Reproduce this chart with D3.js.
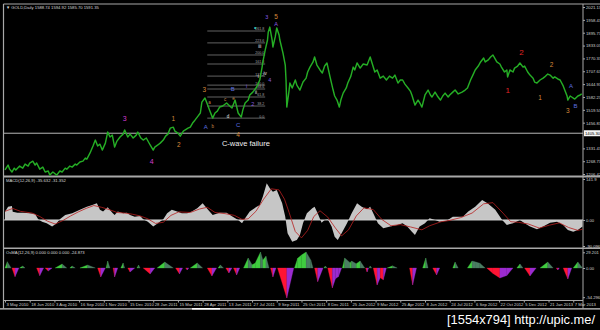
<!DOCTYPE html>
<html>
<head>
<meta charset="utf-8">
<script src="https://cdnjs.cloudflare.com/ajax/libs/d3/7.8.5/d3.min.js"></script>
<style>
body { margin: 0; background: #000; }
text { font-family: "Liberation Sans", Arial, sans-serif; }
</style>
</head>
<body>
<div id="chart"></div>
<script>

// GOLD daily close (bar number, price)
var priceBars = [0,4,6,9,12,14,19,23,26,30,32,36,39,41,45,49,52,56,58,62,67,71,74,78,80,84,87,91,93,97,101,104,106,110,114,117,120,123,126,130,133,136,139,142,145,149,153,155,159,162,166,170,172,176,179,183,188,192,194,198,201,205,208,211,214,218,220,224,227,231,233,237,240,243,246,250,253,255,259,262,265,269,272,275,278,282,287,291,294,298,302,306,308,311,315,317,321,326,330,333,334,337,340,341,343,346,347,350,352,355,356,360,363,364,365,368,369,372,376,378,382,386,390,392,395,399,401,404,408,411,414,417,421,425,427,430,433,435,438,442,444,448,451,453,456,460,464,469,473,475,479,482,486,490,494,498,502,505,509,512,515,518,522,525,527,531,535,538,540,544,548,551,553,557,560,564,567,570,574,576,580,583,587,592,596,599,603,606,609,613,616,620,622,626,629,632,635,637,641,643,647,650,651,654,658,660,664,667,671,673,677,680,684,686,689,693,697,699,703,706,710,712,716,719,723,725,728,729,732,734,738,742,745,747];
var priceValues = [1226,1250,1230,1216,1235,1226,1245,1235,1255,1245,1260,1269,1250,1260,1230,1240,1216,1221,1201,1216,1201,1221,1216,1235,1230,1245,1240,1255,1250,1265,1269,1284,1279,1308,1343,1372,1343,1352,1323,1357,1411,1387,1396,1338,1367,1387,1401,1421,1387,1401,1382,1396,1411,1382,1372,1382,1348,1323,1338,1348,1357,1372,1391,1401,1430,1435,1416,1406,1391,1416,1421,1430,1435,1455,1469,1489,1504,1557,1577,1548,1518,1479,1504,1513,1533,1538,1553,1538,1528,1567,1504,1484,1518,1553,1567,1592,1606,1631,1665,1728,1753,1811,1860,1899,1923,1860,1826,1875,1919,1885,1860,1797,1738,1665,1533,1616,1650,1626,1665,1640,1616,1655,1674,1704,1728,1753,1777,1738,1714,1699,1733,1748,1680,1616,1587,1567,1533,1567,1601,1626,1650,1684,1728,1714,1748,1723,1743,1738,1777,1753,1704,1714,1674,1684,1665,1684,1674,1689,1650,1665,1665,1645,1626,1611,1592,1543,1567,1548,1533,1592,1616,1592,1582,1606,1587,1567,1587,1601,1582,1592,1606,1616,1597,1606,1616,1626,1665,1689,1714,1733,1753,1772,1753,1763,1777,1787,1767,1753,1743,1728,1704,1714,1680,1714,1704,1723,1733,1748,1728,1733,1704,1689,1674,1655,1650,1665,1674,1680,1694,1689,1674,1680,1670,1665,1636,1616,1587,1567,1587,1582,1572,1587,1592,1597];

// MACD(12,26,9) main line and signal
var macdBars = [0,4,9,10,16,23,32,39,43,48,54,61,67,71,78,87,97,106,113,119,123,127,133,139,142,146,153,158,162,168,175,179,185,192,198,205,210,216,223,229,236,242,249,256,263,269,278,287,295,302,307,311,317,326,330,334,339,343,347,352,359,363,366,372,378,382,386,391,398,401,405,410,414,418,423,427,431,436,443,449,456,462,469,473,477,483,490,499,508,515,521,527,531,537,544,550,557,563,572,580,593,600,609,618,625,635,644,650,658,667,673,680,689,697,706,715,723,729,736,742,748];
var macdValues = [28.8,46,48.5,28.8,25,25,23,21,2.4,-5.9,-11.4,-23,-11.4,2.4,17,23,35,46,52,58,35,29,44,25,17,29,23,25,17,11,14,2.4,-5.9,-23,-11.4,2.4,23,35,29,23,23,29,40.5,58,35,17,25,25,11,0,-11.4,6,29,46,52,81,127,110,98,104,58,11,-46,-75,-69,-52,-11.4,23,40.5,46,23,-9.4,0,2.4,-23,-58,-69,-46,-11.4,23,58,46,37,46,23,-11.4,-29,-23,-17,-11.4,-23,-40.5,-52,-23,-11.4,6,0,-5.9,-2.4,11.4,11.4,29,46,69,58,35,0,-17,-11.4,0,-11.4,-23,-32,-23,-9.4,-5.9,-17,-35,-40.5,-35,-23];
var signalBars = [0,10,20,35,45,55,65,75,85,95,105,115,125,135,145,155,165,175,185,195,205,215,225,240,252,262,272,285,297,307,315,325,335,345,355,362,368,376,384,392,400,408,418,428,436,445,455,465,477,488,500,512,525,540,550,565,575,590,605,620,632,645,655,665,678,692,705,718,730,742,748];
var signalValues = [30,40,30,24,12,-4,-14,-2,14,28,40,50,44,36,26,24,20,14,4,-12,-8,16,28,26,38,44,26,22,16,2,4,30,72,108,104,72,26,-40,-62,-36,12,32,10,-28,-55,-34,14,42,36,2,-20,-16,-24,-34,-20,-6,-2,8,24,56,60,24,-6,-8,-14,-28,-18,-10,-26,-36,-32];

// OsMA(12,26,9) histogram outline
var osmaBars = [0,3,8,9,13,18,19,23,26,41,45,50,52,56,61,65,74,80,84,87,91,97,107,117,120,124,130,131,133,136,140,142,146,150,153,155,159,162,168,171,173,175,179,188,194,197,207,218,221,226,230,234,236,238,240,249,256,262,268,274,276,279,283,286,290,294,296,300,304,309,315,320,324,331,334,338,342,344,347,351,353,365,374,375,379,384,390,396,399,401,405,412,413,415,417,418,424,428,432,436,437,440,447,449,455,460,466,467,469,471,472,473,475,477,482,486,490,494,495,502,508,524,528,533,541,545,548,554,559,563,580,583,587,599,605,610,615,622,624,632,641,650,658,663,667,671,673,680,688,693,703,710,714,716,718,723,729,734,736,742,748];
var osmaValues = [0,11.7,0,0,-16.2,0,0,3.7,0,0,-14.3,0,0,-5.6,0,0,7.4,0,0,3.7,0,0,5.6,0,0,-16.7,0,0,13,0,0,-16.7,0,0,9.3,0,0,-7.4,0,0,5.6,0,0,-11,0,0,11,0,0,-11,0,0,-3.7,0,0,9.3,0,0,-14.9,0,0,5.6,0,0,-9.3,0,0,-13,0,0,18.6,6,9,29.8,15,22,0,0,-16.7,0,0,-55.8,0,0,18,24,29.8,15,0,0,-25.5,0,0,3.7,0,0,-37,-20,-16,0,0,18.6,10,13,8,13,0,0,-7.4,0,0,3.7,0,0,-31.6,-18,-22,0,0,4,0,0,-31.6,0,0,18.6,0,0,-13,0,0,11,0,0,13,11,9,0,0,-10,-18.6,-14,0,0,7.4,0,0,-14.9,0,0,11,0,0,-3.7,0,0,-20.5,0,0,11,0];

var dateLabels = ["3 May 2010","18 Jun 2010","3 Aug 2010","16 Sep 2010","1 Nov 2010","15 Dec 2010","28 Jan 2011","15 Mar 2011","28 Apr 2011","13 Jun 2011","27 Jul 2011","9 Sep 2011","25 Oct 2011","8 Dec 2011","25 Jan 2012","9 Mar 2012","25 Apr 2012","8 Jun 2012","24 Jul 2012","6 Sep 2012","22 Oct 2012","5 Dec 2012","21 Jan 2013","7 Mar 2013"];
var priceTicks = [2021.13,1958.43,1895.73,1833.03,1770.33,1707.63,1644.93,1582.23,1519.53,1456.83,1331.43,1268.73,1206.42];
var macdTicks = [141.9, 0, -90.096];
var macdTickLabels = ["141.9", "0.00", "-90.096"];
var osmaTicks = [29.201, 0, -54.296];
var osmaTickLabels = ["29.201", "0.00", "-54.296"];

var hLinePrice = 1405.3;

// fibonacci levels drawn on the 2011 advance
var fibPrices = [1904,1846,1787,1743,1684,1640,1621,1582,1538,1479];
var fibLabels = ["261.8","223.6","200.0","161.8","127.2","100.0","88.6","61.8","38.2","0.0"];
var fibFrom = 262, fibTo = 337;

// wave count labels
var waveText   = ["3","4","1","2","3","a","b","A","c","e","d","B","C","4","i","2","i","ii","iii","iv","4","3","5","A","2","1","2","1","A","3","B","\u2022"];
var waveBar    = [155,190,218,225,258,265,269,260,285,296,289,295,302,302,313,321,328,325,330,337,343,339,351,351,669,651,708,693,733,729,739,324];
var wavePrice  = [1479,1265,1479,1348,1621,1553,1440,1436,1572,1577,1489,1621,1445,1397,1636,1548,1684,1604,1830,1699,1665,1972,1977,1938,1797,1616,1743,1582,1636,1518,1538,1923];
var waveDegree = ["primary","primary","inter","inter","inter","minor","minor","corr","minor","minor","count","corr","corr","inter","sub","sub","count","count","count","count","sub","sub","inter","sub","cycle","cycle","inter","inter","corr","inter","corr","marker"];

var degreeColor = {primary:"#d23cd2", inter:"#d98a3a", minor:"#c98a4a", corr:"#5b6fe0", sub:"#8a5ce0", count:"#e8e8e8", cycle:"#e02424", marker:"#38d0c0"};
var degreeSize  = {primary:7, inter:6.5, minor:4.5, corr:6, sub:5.5, count:4.5, cycle:8, marker:7};

var svg = d3.select("#chart").append("svg")
    .attr("width", 600)
    .attr("height", 330)
    .style("background", "#000")
    .style("display", "block");

var x = d3.scaleLinear().domain([0, 748]).range([5, 582.5]);
var yPrice = d3.scaleLinear().domain([1206.42, 2021.13]).range([174, 7]);
var yMacd = d3.scaleLinear().domain([-90.096, 141.9]).range([246, 179]);
var yOsma = d3.scaleLinear().domain([-54.296, 29.201]).range([297.2, 252.3]);

var frame = "#a8a8a8";

//panel frame
function hline(y, x1, x2, w, c) {
    svg.append("line").attr("x1", x1).attr("x2", x2).attr("y1", y).attr("y2", y)
        .attr("stroke", c || frame).attr("stroke-width", w || 1);
}
hline(4, 3.5, 600, 1.2);
hline(176.5, 3.5, 600, 1.8);
hline(248.3, 3.5, 600, 1.4);
hline(300.5, 3.5, 583, 1);
hline(308.8, 0, 600, 1.2, "#cfcfcf");
hline(308.8, 192, 220, 1.6, "#ffffff");
svg.append("line").attr("x1", 3.5).attr("x2", 3.5).attr("y1", 4).attr("y2", 308.8)
    .attr("stroke", frame).attr("stroke-width", 1.2);
svg.append("line").attr("x1", 583).attr("x2", 583).attr("y1", 4).attr("y2", 308.8)
    .attr("stroke", frame).attr("stroke-width", 1);

// header texts
svg.append("text").attr("x", 6).attr("y", 8.5).attr("fill", "#d8d8d8").attr("font-size", 4.2)
    .text("\u25BC GOLD,Daily  1588.74 1594.92 1585.70 1591.35");
svg.append("text").attr("x", 6).attr("y", 181.5).attr("fill", "#d8d8d8").attr("font-size", 4.2)
    .text("MACD(12,26,9) -35.632 -31.352");
svg.append("text").attr("x", 6).attr("y", 253.5).attr("fill", "#d8d8d8").attr("font-size", 4.2)
    .text("OsMA(12,26,9) 0.000 0.000 0.000 -24.873");

// fibonacci levels
fibPrices.forEach(function (p, i) {
    svg.append("line")
        .attr("x1", x(fibFrom)).attr("x2", x(fibTo))
        .attr("y1", yPrice(p)).attr("y2", yPrice(p))
        .attr("stroke", "#8c8c8c").attr("stroke-width", 0.7);
    svg.append("text")
        .attr("x", x(fibTo) - 1).attr("y", yPrice(p) - 0.6)
        .attr("text-anchor", "end")
        .attr("fill", "#a0a0a0").attr("font-size", 3.6)
        .text(fibLabels[i]);
});

// horizontal line
svg.append("line")
    .attr("x1", 4).attr("x2", 583)
    .attr("y1", yPrice(hLinePrice)).attr("y2", yPrice(hLinePrice))
    .attr("stroke", "#b8b8b8").attr("stroke-width", 1);

// price line
var priceLine = d3.line()
    .x(function (d, i) { return x(priceBars[i]); })
    .y(function (d) { return yPrice(d); });
svg.append("path")
    .datum(priceValues)
    .attr("d", priceLine)
    .attr("fill", "none")
    .attr("stroke", "#25ad25")
    .attr("stroke-width", 1.45)
    .attr("stroke-linejoin", "round");

// wave labels
waveText.forEach(function (t, i) {
    var deg = waveDegree[i];
    svg.append("text")
        .attr("x", x(waveBar[i]))
        .attr("y", yPrice(wavePrice[i]))
        .attr("text-anchor", "middle")
        .attr("dominant-baseline", "central")
        .attr("fill", degreeColor[deg])
        .attr("font-size", degreeSize[deg])
        .text(t);
});
svg.append("text")
    .attr("x", x(312)).attr("y", yPrice(1357))
    .attr("text-anchor", "middle").attr("dominant-baseline", "central")
    .attr("fill", "#f0f0f0").attr("font-size", 7.5)
    .text("C-wave failure");

// price axis
var priceAxis = d3.axisRight(yPrice).tickValues(priceTicks)
    .tickFormat(d3.format(".2f")).tickSize(2).tickPadding(1);
var pa = svg.append("g").attr("transform", "translate(583,0)").call(priceAxis);
pa.select(".domain").remove();
pa.selectAll("line").attr("stroke", frame);
pa.selectAll("text").attr("fill", "#d0d0d0").attr("font-size", 4.2)
    .attr("font-family", "Liberation Sans, Arial, sans-serif");

// box for the horizontal line price
svg.append("rect").attr("x", 584).attr("y", yPrice(hLinePrice) - 3).attr("width", 16).attr("height", 6)
    .attr("fill", "#f4f4f4");
svg.append("text").attr("x", 585).attr("y", yPrice(hLinePrice))
    .attr("dominant-baseline", "central").attr("fill", "#000").attr("font-size", 4.2)
    .text(hLinePrice.toFixed(2));

// MACD histogram
var macdArea = d3.area()
    .x(function (d, i) { return x(macdBars[i]); })
    .y0(yMacd(0))
    .y1(function (d) { return yMacd(d); });
svg.append("path")
    .datum(macdValues)
    .attr("d", macdArea)
    .attr("fill", "#c6c6c6");
hline(yMacd(0), 4, 583, 1, "#d0d0d0");

var signalLine = d3.line()
    .x(function (d, i) { return x(signalBars[i]); })
    .y(function (d) { return yMacd(d); });
svg.append("path")
    .datum(signalValues)
    .attr("d", signalLine)
    .attr("fill", "none")
    .attr("stroke", "#b82020")
    .attr("stroke-width", 0.8);

var macdAxis = d3.axisRight(yMacd).tickValues(macdTicks)
    .tickFormat(function (d, i) { return macdTickLabels[i]; }).tickSize(2).tickPadding(1);
var ma = svg.append("g").attr("transform", "translate(583,0)").call(macdAxis);
ma.select(".domain").remove();
ma.selectAll("line").attr("stroke", frame);
ma.selectAll("text").attr("fill", "#d0d0d0").attr("font-size", 4.2)
    .attr("font-family", "Liberation Sans, Arial, sans-serif");

// OsMA histogram, coloured by sign and direction
var y0 = yOsma(0);
for (var i = 0; i < osmaValues.length - 1; i++) {
    var a = osmaValues[i], b = osmaValues[i + 1];
    if (a == 0 && b == 0) continue;
    var positive = (a + b) > 0;
    var rising = b > a;
    var color;
    if (positive) color = rising ? "#3fcc3f" : "#4a7d62";
    else color = rising ? "#9b2bd0" : "#ff1434";
    var x1 = x(osmaBars[i]), x2 = x(osmaBars[i + 1]);
    svg.append("path")
        .attr("d", "M" + x1 + "," + y0 + "L" + x1 + "," + yOsma(a) + "L" + x2 + "," + yOsma(b) + "L" + x2 + "," + y0 + "Z")
        .attr("fill", color)
        .attr("stroke", color)
        .attr("stroke-width", 0.3);
}

var osmaAxis = d3.axisRight(yOsma).tickValues(osmaTicks)
    .tickFormat(function (d, i) { return osmaTickLabels[i]; }).tickSize(2).tickPadding(1);
var oa = svg.append("g").attr("transform", "translate(583,0)").call(osmaAxis);
oa.select(".domain").remove();
oa.selectAll("line").attr("stroke", frame);
oa.selectAll("text").attr("fill", "#d0d0d0").attr("font-size", 4.2)
    .attr("font-family", "Liberation Sans, Arial, sans-serif");

// date axis
var dateAxis = d3.axisBottom(x)
    .tickValues(dateLabels.map(function (d, i) { return i * 32; }))
    .tickFormat(function (d, i) { return dateLabels[i]; })
    .tickSize(2).tickPadding(0.5);
var da = svg.append("g").attr("transform", "translate(0,300.5)").call(dateAxis);
da.select(".domain").remove();
da.selectAll("line").attr("stroke", frame);
da.selectAll("text").attr("fill", "#d0d0d0").attr("font-size", 4.2)
    .attr("text-anchor", "start").attr("dx", 1)
    .attr("font-family", "Liberation Sans, Arial, sans-serif");

// image host stamp
svg.append("text")
    .attr("x", 447).attr("y", 323.5)
    .attr("fill", "#ffffff")
    .attr("font-size", 13)
    .attr("font-family", "DejaVu Sans Mono, monospace")
    .attr("textLength", 148).attr("lengthAdjust", "spacingAndGlyphs")
    .text("[1554x794] http://upic.me/");

</script>
</body>
</html>
